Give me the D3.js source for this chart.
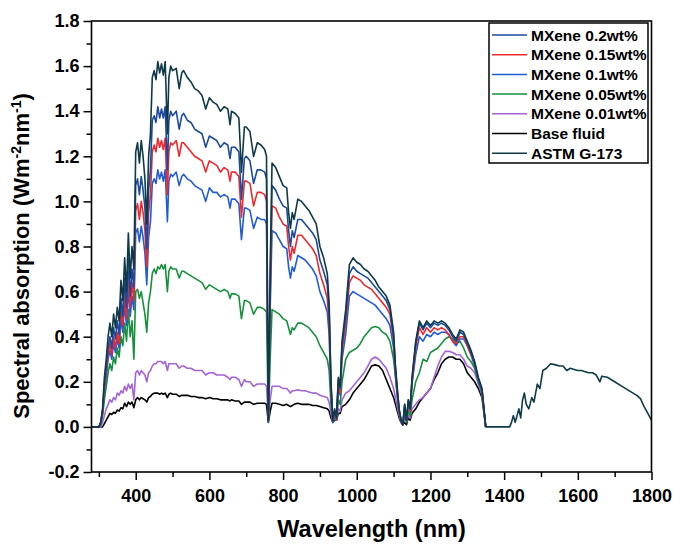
<!DOCTYPE html>
<html>
<head>
<meta charset="utf-8">
<script src="https://cdn.jsdelivr.net/npm/d3@7"></script>
<style>
  body { margin: 0; background: #fff; }
  svg text { font-family: Arial, "Liberation Sans", sans-serif; font-weight: bold; fill: #000; }
</style>
</head>
<body>
<svg id="chart" width="673" height="544"></svg>
<script>
// wavelength grid (nm), shared by every series
const wavelength = [
  280, 300,
  305, 310, 315, 320, 325, 330, 335, 340, 345, 350,
  355, 360, 365, 370, 375, 380, 385, 390, 395, 400,
  405, 410, 415, 420, 425, 430, 435, 440, 445, 450,
  455, 460, 465, 470, 475, 480, 486, 490, 495, 500,
  510, 518, 525, 530, 540, 550, 560, 570, 580, 590,
  600, 610, 620, 630, 640, 650, 656, 660, 670, 680,
  687, 695, 700, 710, 720, 730, 740, 750, 755, 760,
  765, 770, 780, 790, 800, 810, 815, 820, 825, 830,
  840, 850, 860, 870, 880, 890, 900, 910, 920, 925,
  930, 935, 940, 945, 950, 955, 960, 970, 980, 990,
  1000, 1010, 1020, 1030, 1040, 1050, 1060, 1070, 1080, 1090,
  1100, 1105, 1110, 1115, 1120, 1125, 1130, 1135, 1140, 1145,
  1150, 1160, 1170, 1180, 1190, 1200, 1210, 1220, 1230, 1240,
  1250, 1260, 1270, 1280, 1290, 1300, 1310, 1320, 1330, 1340, 1350,
  1360, 1380, 1400, 1415, 1420, 1425, 1430, 1440, 1445, 1450,
  1455, 1460, 1467, 1475, 1481, 1490, 1497, 1505, 1515, 1526,
  1540, 1550, 1560, 1570, 1580, 1590, 1600, 1610, 1620, 1630,
  1640, 1650, 1660, 1665, 1680, 1700, 1720, 1740, 1760, 1770,
  1780, 1790, 1800
];

// ASTM G-173 (full range)
const astm = [
  0, 0,
  0.02, 0.08, 0.22, 0.3, 0.4, 0.46, 0.4, 0.5, 0.44, 0.53,
  0.47, 0.65, 0.56, 0.75, 0.6, 0.86, 0.66, 0.8, 0.7, 1.22,
  1.26, 1.17, 1.27, 1.2, 1.1, 0.9, 1.2, 1.3, 1.55, 1.58,
  1.54, 1.62, 1.57, 1.61, 1.56, 1.62, 1.3, 1.55, 1.6, 1.58,
  1.59, 1.5, 1.57, 1.58, 1.55, 1.53, 1.5, 1.49, 1.47, 1.41,
  1.46, 1.44, 1.43, 1.4, 1.42, 1.41, 1.34, 1.4, 1.39, 1.37,
  1.13, 1.33, 1.33, 1.31, 1.2, 1.26, 1.25, 1.23, 1.2, 0.03,
  0.7, 1.17, 1.15, 1.11, 1.07, 1.06, 0.95, 0.88, 0.95, 0.92,
  1.01, 1.0, 0.98, 0.96, 0.93, 0.9, 0.8, 0.75, 0.68, 0.55,
  0.2, 0.03, 0.08, 0.04, 0.22, 0.18, 0.38, 0.52, 0.72, 0.75,
  0.73, 0.72, 0.7, 0.69, 0.67, 0.65, 0.62, 0.6, 0.58, 0.54,
  0.42, 0.27, 0.17, 0.08, 0.03, 0.01, 0.1, 0.03, 0.12, 0.08,
  0.22, 0.38, 0.47, 0.44, 0.47, 0.45, 0.47, 0.46, 0.47, 0.46,
  0.44, 0.41, 0.39, 0.43, 0.42, 0.38, 0.34, 0.29, 0.22, 0.17, 0,
  0, 0, 0, 0, 0.02, 0.05, 0.02, 0.08, 0.04, 0.12,
  0.15, 0.1, 0.08, 0.13, 0.11, 0.19, 0.17, 0.25, 0.26, 0.28,
  0.275, 0.27, 0.27, 0.25, 0.26, 0.255, 0.25, 0.25, 0.245, 0.24,
  0.24, 0.23, 0.2, 0.225, 0.22, 0.2, 0.18, 0.16, 0.14, 0.125,
  0.09, 0.06, 0.03
];

// absorbed spectra, 280 - 1350 nm
const mxene02 = [
  0, 0,
  0.02, 0.07, 0.19, 0.26, 0.35, 0.4, 0.35, 0.44, 0.39, 0.47,
  0.41, 0.57, 0.49, 0.66, 0.53, 0.75, 0.58, 0.7, 0.62, 1.07,
  1.1, 1.03, 1.11, 1.05, 0.97, 0.79, 1.05, 1.14, 1.36, 1.38,
  1.35, 1.42, 1.37, 1.41, 1.37, 1.42, 1.14, 1.36, 1.4, 1.38,
  1.4, 1.32, 1.38, 1.39, 1.36, 1.35, 1.32, 1.31, 1.3, 1.24,
  1.29, 1.28, 1.27, 1.24, 1.26, 1.25, 1.19, 1.24, 1.24, 1.22,
  1.01, 1.19, 1.2, 1.18, 1.08, 1.14, 1.14, 1.13, 1.1, 0.03,
  0.64, 1.07, 1.05, 1.01, 0.98, 0.97, 0.87, 0.8, 0.87, 0.84,
  0.92, 0.92, 0.9, 0.88, 0.86, 0.83, 0.74, 0.69, 0.63, 0.51,
  0.19, 0.03, 0.07, 0.04, 0.21, 0.17, 0.36, 0.49, 0.68, 0.71,
  0.69, 0.68, 0.67, 0.66, 0.64, 0.62, 0.6, 0.58, 0.56, 0.52,
  0.4, 0.26, 0.16, 0.08, 0.03, 0.01, 0.1, 0.03, 0.12, 0.08,
  0.21, 0.37, 0.46, 0.43, 0.46, 0.44, 0.46, 0.45, 0.46, 0.45,
  0.43, 0.4, 0.38, 0.42, 0.41, 0.37, 0.33, 0.28, 0.21, 0.16, 0
];
const mxene015 = [
  0, 0,
  0.02, 0.06, 0.17, 0.24, 0.32, 0.37, 0.32, 0.4, 0.35, 0.42,
  0.37, 0.52, 0.45, 0.6, 0.48, 0.68, 0.53, 0.64, 0.56, 0.96,
  0.99, 0.92, 1.0, 0.95, 0.87, 0.71, 0.95, 1.03, 1.22, 1.25,
  1.22, 1.28, 1.24, 1.27, 1.23, 1.28, 1.03, 1.22, 1.26, 1.25,
  1.27, 1.2, 1.26, 1.26, 1.24, 1.22, 1.2, 1.19, 1.18, 1.13,
  1.18, 1.17, 1.16, 1.13, 1.15, 1.14, 1.09, 1.13, 1.13, 1.11,
  0.93, 1.09, 1.09, 1.08, 0.98, 1.04, 1.04, 1.03, 1.0, 0.03,
  0.59, 0.98, 0.97, 0.93, 0.9, 0.89, 0.8, 0.74, 0.8, 0.77,
  0.85, 0.85, 0.83, 0.81, 0.79, 0.76, 0.68, 0.63, 0.57, 0.46,
  0.17, 0.03, 0.07, 0.03, 0.19, 0.15, 0.33, 0.46, 0.64, 0.67,
  0.66, 0.65, 0.63, 0.62, 0.61, 0.59, 0.57, 0.55, 0.53, 0.5,
  0.38, 0.25, 0.15, 0.07, 0.03, 0.01, 0.09, 0.03, 0.11, 0.07,
  0.2, 0.35, 0.44, 0.41, 0.44, 0.42, 0.44, 0.43, 0.44, 0.43,
  0.41, 0.38, 0.37, 0.4, 0.4, 0.36, 0.32, 0.28, 0.21, 0.16, 0
];
const mxene01 = [
  0, 0,
  0.015, 0.06, 0.16, 0.22, 0.3, 0.34, 0.3, 0.37, 0.33, 0.39,
  0.35, 0.48, 0.42, 0.55, 0.45, 0.62, 0.49, 0.58, 0.52, 0.86,
  0.88, 0.82, 0.89, 0.84, 0.77, 0.63, 0.84, 0.91, 1.08, 1.1,
  1.08, 1.14, 1.1, 1.13, 1.09, 1.14, 0.91, 1.09, 1.12, 1.11,
  1.13, 1.07, 1.11, 1.12, 1.1, 1.09, 1.07, 1.06, 1.05, 1.0,
  1.06, 1.04, 1.04, 1.02, 1.03, 1.02, 0.97, 1.01, 1.01, 0.99,
  0.83, 0.97, 0.97, 0.96, 0.88, 0.93, 0.92, 0.92, 0.9, 0.02,
  0.52, 0.87, 0.86, 0.83, 0.8, 0.79, 0.71, 0.66, 0.71, 0.69,
  0.76, 0.75, 0.74, 0.72, 0.7, 0.67, 0.6, 0.56, 0.51, 0.41,
  0.15, 0.02, 0.06, 0.03, 0.17, 0.14, 0.3, 0.41, 0.58, 0.6,
  0.59, 0.58, 0.57, 0.56, 0.55, 0.54, 0.52, 0.5, 0.48, 0.45,
  0.35, 0.23, 0.14, 0.07, 0.03, 0.01, 0.08, 0.03, 0.1, 0.07,
  0.19, 0.32, 0.4, 0.38, 0.41, 0.4, 0.42, 0.41, 0.42, 0.42,
  0.41, 0.38, 0.36, 0.39, 0.39, 0.36, 0.32, 0.27, 0.21, 0.16, 0
];
const mxene005 = [
  0, 0,
  0.01, 0.05, 0.12, 0.18, 0.24, 0.28, 0.25, 0.31, 0.28, 0.35,
  0.31, 0.4, 0.36, 0.46, 0.38, 0.52, 0.4, 0.47, 0.3, 0.6,
  0.61, 0.57, 0.6, 0.55, 0.5, 0.42, 0.55, 0.6, 0.68, 0.7,
  0.68, 0.71, 0.7, 0.72, 0.7, 0.72, 0.6, 0.69, 0.71, 0.7,
  0.7, 0.66, 0.69, 0.69, 0.68, 0.67, 0.66, 0.65, 0.64, 0.61,
  0.63, 0.62, 0.61, 0.6, 0.61, 0.6, 0.57, 0.59, 0.59, 0.58,
  0.48, 0.56, 0.56, 0.55, 0.5, 0.53, 0.53, 0.52, 0.51, 0.03,
  0.3, 0.52, 0.51, 0.5, 0.48, 0.47, 0.44, 0.41, 0.44, 0.43,
  0.46, 0.46, 0.45, 0.44, 0.42, 0.4, 0.36, 0.33, 0.3, 0.25,
  0.1, 0.02, 0.05, 0.03, 0.12, 0.1, 0.2, 0.3, 0.33, 0.34,
  0.35, 0.37, 0.4, 0.42, 0.44, 0.445, 0.44, 0.42, 0.41, 0.38,
  0.3, 0.22, 0.14, 0.07, 0.03, 0.01, 0.06, 0.02, 0.07, 0.05,
  0.12, 0.2, 0.24, 0.3, 0.29, 0.33, 0.34, 0.35, 0.37, 0.39,
  0.4, 0.39, 0.37, 0.38, 0.35, 0.31, 0.29, 0.26, 0.2, 0.15, 0
];
const mxene001 = [
  0, 0,
  0, 0.02, 0.05, 0.08, 0.1, 0.12, 0.11, 0.13, 0.12, 0.15,
  0.14, 0.16, 0.15, 0.18, 0.16, 0.19, 0.17, 0.19, 0.12, 0.24,
  0.25, 0.23, 0.25, 0.24, 0.23, 0.2, 0.24, 0.25, 0.27, 0.28,
  0.28, 0.29, 0.29, 0.29, 0.28, 0.29, 0.25, 0.28, 0.28, 0.28,
  0.28, 0.26, 0.27, 0.27, 0.26, 0.26, 0.25, 0.25, 0.25, 0.23,
  0.24, 0.24, 0.23, 0.23, 0.23, 0.22, 0.21, 0.22, 0.22, 0.21,
  0.18, 0.21, 0.2, 0.2, 0.18, 0.19, 0.19, 0.19, 0.18, 0.04,
  0.12, 0.18, 0.18, 0.18, 0.17, 0.17, 0.16, 0.15, 0.16, 0.16,
  0.165, 0.16, 0.16, 0.155, 0.15, 0.15, 0.14, 0.135, 0.13, 0.11,
  0.06, 0.02, 0.04, 0.03, 0.08, 0.07, 0.12, 0.15, 0.16, 0.18,
  0.2, 0.22, 0.24, 0.27, 0.3, 0.31, 0.3, 0.28, 0.26, 0.22,
  0.17, 0.13, 0.09, 0.05, 0.02, 0.01, 0.04, 0.02, 0.05, 0.04,
  0.08, 0.1, 0.12, 0.13, 0.15, 0.17, 0.22, 0.27, 0.31, 0.335,
  0.335, 0.33, 0.32, 0.32, 0.3, 0.27, 0.26, 0.24, 0.19, 0.14, 0
];
const baseFluid = [
  0, 0,
  0, 0, 0.015, 0.03, 0.045, 0.06, 0.055, 0.065, 0.06, 0.075,
  0.07, 0.085, 0.08, 0.105, 0.09, 0.11, 0.1, 0.11, 0.085, 0.12,
  0.13, 0.12, 0.13, 0.125, 0.12, 0.11, 0.13, 0.135, 0.145, 0.15,
  0.15, 0.15, 0.145, 0.15, 0.145, 0.15, 0.13, 0.145, 0.15, 0.145,
  0.145, 0.135, 0.14, 0.14, 0.14, 0.135, 0.135, 0.13, 0.13, 0.125,
  0.13, 0.125, 0.125, 0.12, 0.12, 0.12, 0.115, 0.12, 0.115, 0.115,
  0.1, 0.11, 0.11, 0.11, 0.1, 0.105, 0.105, 0.105, 0.1, 0.02,
  0.07, 0.105, 0.105, 0.1, 0.095, 0.1, 0.095, 0.09, 0.095, 0.1,
  0.105, 0.1, 0.1, 0.1, 0.095, 0.095, 0.09, 0.085, 0.08, 0.07,
  0.04, 0.02, 0.03, 0.03, 0.06, 0.06, 0.09, 0.1, 0.12, 0.15,
  0.17, 0.19, 0.21, 0.24, 0.27, 0.275, 0.27, 0.25, 0.21, 0.17,
  0.13, 0.1, 0.07, 0.04, 0.02, 0.01, 0.02, 0.01, 0.04, 0.03,
  0.06, 0.08, 0.11, 0.13, 0.15, 0.17, 0.21, 0.24, 0.28, 0.3,
  0.31, 0.31, 0.3, 0.3, 0.28, 0.24, 0.22, 0.2, 0.17, 0.13, 0
];

const legendNames = ['MXene 0.2wt%', 'MXene 0.15wt%', 'MXene 0.1wt%', 'MXene 0.05wt%', 'MXene 0.01wt%', 'Base fluid', 'ASTM G-173'];
const lineColors = ['#1c4a9e', '#ee2a2e', '#1f5cd6', '#16913b', '#a463d6', '#000000', '#0e3a48'];
const xTicks = [400, 600, 800, 1000, 1200, 1400, 1600, 1800];
const xMinorTicks = [300, 500, 700, 900, 1100, 1300, 1500, 1700];
const yTicks = [-0.2, 0, 0.2, 0.4, 0.6, 0.8, 1.0, 1.2, 1.4, 1.6, 1.8];
const yMinorTicks = [-0.1, 0.1, 0.3, 0.5, 0.7, 0.9, 1.1, 1.3, 1.5, 1.7];

const seriesValues = [mxene02, mxene015, mxene01, mxene005, mxene001, baseFluid, astm];

const margin = { left: 91.5, right: 651.5, top: 21, bottom: 472 };
const svg = d3.select('#chart');

const x = d3.scaleLinear().domain([280, 1800]).range([margin.left, margin.right]);
const y = d3.scaleLinear().domain([-0.2, 1.8]).range([margin.bottom, margin.top]);

// curves, drawn from base fluid upward so ASTM sits on top
const line = d3.line()
  .x(d => x(d[0]))
  .y(d => y(d[1]));

const drawOrder = [5, 4, 3, 2, 1, 0, 6];
drawOrder.forEach(i => {
  const pts = seriesValues[i].map((v, j) => [wavelength[j], v]);
  svg.append('path')
    .datum(pts)
    .attr('fill', 'none')
    .attr('stroke', lineColors[i])
    .attr('stroke-width', 1.6)
    .attr('stroke-linejoin', 'round')
    .attr('d', line);
});

// frame
svg.append('rect')
  .attr('x', margin.left)
  .attr('y', margin.top)
  .attr('width', margin.right - margin.left)
  .attr('height', margin.bottom - margin.top)
  .attr('fill', 'none')
  .attr('stroke', '#000')
  .attr('stroke-width', 1.6);

// axes
const xAxis = svg.append('g')
  .attr('transform', `translate(0,${margin.bottom})`)
  .call(d3.axisBottom(x).tickValues(xTicks).tickSize(8).tickPadding(9).tickFormat(d3.format('d')));
const xMinor = svg.append('g')
  .attr('transform', `translate(0,${margin.bottom})`)
  .call(d3.axisBottom(x).tickValues(xMinorTicks).tickSize(5).tickFormat(''));

const yAxis = svg.append('g')
  .attr('transform', `translate(${margin.left},0)`)
  .call(d3.axisLeft(y).tickValues(yTicks).tickSize(8).tickPadding(4).tickFormat(d => d.toFixed(1)));
const yMinor = svg.append('g')
  .attr('transform', `translate(${margin.left},0)`)
  .call(d3.axisLeft(y).tickValues(yMinorTicks).tickSize(5).tickFormat(''));

[xAxis, xMinor, yAxis, yMinor].forEach(g => {
  g.select('.domain').remove();
  g.selectAll('.tick line').attr('stroke', '#000').attr('stroke-width', 1.5);
  g.selectAll('.tick text')
    .attr('font-size', 18)
    .attr('font-family', 'Arial, "Liberation Sans", sans-serif')
    .attr('font-weight', 'bold')
    .attr('fill', '#000');
});

// axis titles
svg.append('text')
  .attr('x', (margin.left + margin.right) / 2)
  .attr('y', 537)
  .attr('text-anchor', 'middle')
  .attr('font-size', 23.5)
  .text('Wavelength (nm)');

const yTitle = svg.append('text')
  .attr('transform', 'translate(29,256) rotate(-90)')
  .attr('text-anchor', 'middle')
  .attr('font-size', 22);
yTitle.append('tspan').text('Spectral absorption (Wm');
yTitle.append('tspan').attr('font-size', 14).attr('dy', -8).text('-2');
yTitle.append('tspan').attr('dy', 8).text('nm');
yTitle.append('tspan').attr('font-size', 14).attr('dy', -8).text('-1');
yTitle.append('tspan').attr('dy', 8).text(')');

// legend
const legend = svg.append('g').attr('class', 'legend');
legend.append('rect')
  .attr('x', 489)
  .attr('y', 23)
  .attr('width', 159)
  .attr('height', 140)
  .attr('fill', '#fff')
  .attr('stroke', '#000')
  .attr('stroke-width', 1.5);

legendNames.forEach((name, i) => {
  const ly = 35 + i * 19.7;
  legend.append('line')
    .attr('x1', 492)
    .attr('x2', 527)
    .attr('y1', ly)
    .attr('y2', ly)
    .attr('stroke', lineColors[i])
    .attr('stroke-width', 1.5);
  legend.append('text')
    .attr('x', 531)
    .attr('y', ly + 5.5)
    .attr('font-size', 15.5)
    .text(name);
});
</script>
</body>
</html>
